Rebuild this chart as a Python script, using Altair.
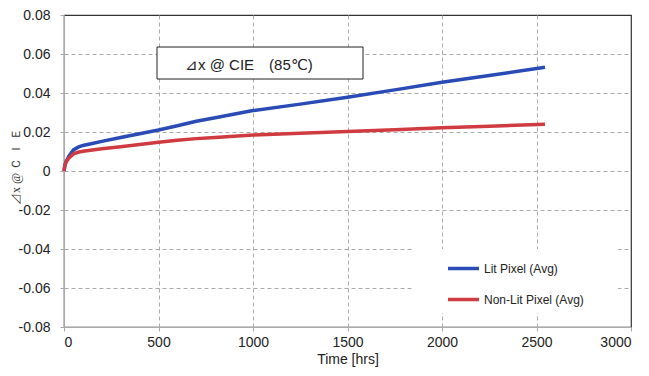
import altair as alt
import pandas as pd

hours = [0, 5, 10, 25, 50, 75, 100, 150, 200, 300, 400, 500, 600, 700, 800, 1000, 1250, 1500, 1750, 2000, 2250, 2545]
lit = [0, 0.003, 0.0045, 0.0075, 0.0108, 0.0122, 0.0131, 0.0141, 0.0152, 0.0172, 0.0191, 0.021, 0.0232, 0.0255, 0.0273, 0.031, 0.0343, 0.0378, 0.0416, 0.0455, 0.049, 0.0532]
nonlit = [0, 0.003, 0.0045, 0.0066, 0.0088, 0.0096, 0.0101, 0.0108, 0.0114, 0.0124, 0.0136, 0.0147, 0.0158, 0.0166, 0.0172, 0.0184, 0.0193, 0.0202, 0.0212, 0.0222, 0.023, 0.024]
series_names = ["Lit Pixel (Avg)", "Non-Lit Pixel (Avg)"]
series_colors = ["#2a4bb5", "#cf3b40"]
x_ticks = [0, 500, 1000, 1500, 2000, 2500, 3000]
y_ticks = [-0.08, -0.06, -0.04, -0.02, 0, 0.02, 0.04, 0.06, 0.08]

rows = []
for name, vals in zip(series_names, [lit, nonlit]):
    for t, v in zip(hours, vals):
        rows.append({"t": t, "v": v, "s": name})
df = pd.DataFrame(rows)

FONT = "Liberation Sans"
one = "datum.t == 0 && datum.s == 'Lit Pixel (Avg)'"

legend_bg = alt.Chart(df).mark_rect(fill="white").encode(
    x=alt.value(349), x2=alt.value(554), y=alt.value(234), y2=alt.value(298)
).transform_filter(one)

lines = alt.Chart(df).mark_line(strokeWidth=3.5).encode(
    x=alt.X("t:Q", scale=alt.Scale(domain=[0, 3000], nice=False),
            axis=alt.Axis(values=x_ticks, format="d", title="Time [hrs]", grid=True,
                          gridDash=[4, 3], gridColor="#aaaaaa", domainColor="#aaaaaa",
                          gridOpacity={"condition": {"test": "datum.value <= 0 || datum.value >= 3000", "value": 0}, "value": 1},
                          tickColor="#aaaaaa", tickSize=4, labelPadding=4,
                          labelFontSize=14, labelFont=FONT, labelColor="#222222",
                          titleFont=FONT, titleFontSize=14, titleFontWeight="normal",
                          titleColor="#222222", titlePadding=3)),
    y=alt.Y("v:Q", scale=alt.Scale(domain=[-0.08, 0.08], nice=False),
            axis=alt.Axis(values=y_ticks, title="⊿x @ Ｃ Ｉ Ｅ", grid=True,
                          gridDash=[4, 3], gridColor="#aaaaaa", domainColor="#aaaaaa",
                          gridOpacity={"condition": {"test": "datum.value <= -0.079 || datum.value >= 0.079", "value": 0}, "value": 1},
                          tickColor="#aaaaaa", tickSize=4, labelPadding=10,
                          labelExpr="datum.value == 0 ? '0' : replace(format(datum.value, '.2f'), '\u2212', '-')",
                          labelFontSize=14, labelFont=FONT, labelColor="#222222",
                          titleFont="Liberation Serif", titleFontSize=12, titleFontWeight="normal",
                          titleColor="#333333", titleAngle=-90, titleX=-49, titleY=151,
                          titleAlign="center", titleBaseline="middle")),
    color=alt.Color("s:N", scale=alt.Scale(domain=series_names, range=series_colors),
                    legend=alt.Legend(title=None, orient="none", legendX=352, legendY=206,
                                      symbolType="stroke", symbolSize=961, symbolStrokeWidth=3.5,
                                      labelFont=FONT, labelFontSize=12, labelColor="#222222",
                                      labelOffset=3, padding=30, rowPadding=6)),
)

box = alt.Chart(df).mark_rect(fill="white", stroke="#222222", strokeWidth=1).encode(
    x=alt.value(93), x2=alt.value(299), y=alt.value(32), y2=alt.value(64)
).transform_filter(one)

label = alt.Chart(df).mark_text(align="left", baseline="middle", font=FONT, fontSize=15,
                                color="#222222").encode(
    x=alt.value(121), y=alt.value(50), text=alt.value("⊿x @ CIE\u3000(85℃)")
).transform_filter(one)

chart = alt.layer(legend_bg, lines, box, label).properties(
    width=567, height=312,
    autosize=alt.AutoSizeParams(type="none"),
    padding={"left": 56, "top": 7, "right": 10, "bottom": 41},
).configure_view(stroke="#333333", strokeWidth=1.2)

chart.save("out.html", embed_options={"renderer": "svg", "actions": False})
